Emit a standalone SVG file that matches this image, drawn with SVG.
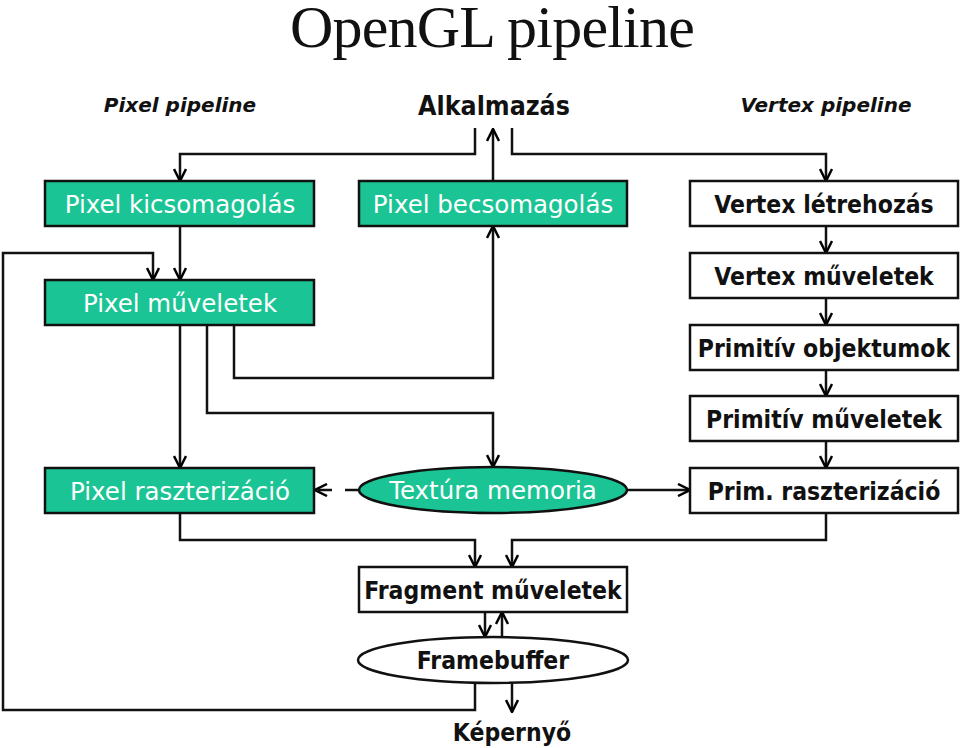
<svg xmlns="http://www.w3.org/2000/svg" width="960" height="748" viewBox="0 0 960 748">
<defs>
<marker id="ah" viewBox="0 0 14 14" refX="13" refY="7" markerWidth="14" markerHeight="14" markerUnits="userSpaceOnUse" orient="auto">
<path d="M1,1 L13,7 L1,13" fill="none" stroke="#000" stroke-width="2.5"/>
</marker>
<style>
.g{fill:#1bc494;stroke:#111;stroke-width:2.5}
.w{fill:#fff;stroke:#111;stroke-width:2.5}
.tw{font-family:"DejaVu Sans",Verdana,sans-serif;font-size:24.5px;fill:#fff;text-anchor:middle}
.tb{font-family:"DejaVu Sans Condensed","DejaVu Sans",Verdana,sans-serif;font-stretch:condensed;font-size:24.5px;font-weight:bold;fill:#111;text-anchor:middle}
.ti{font-family:"DejaVu Sans",Verdana,sans-serif;font-size:20px;font-weight:bold;font-style:italic;fill:#111;text-anchor:middle}
.c{fill:none;stroke:#111;stroke-width:2.5}
.a{marker-end:url(#ah)}
</style>
</defs>
<rect width="960" height="748" fill="#fff"/>
<text x="492" y="47" font-family="'Liberation Serif','Times New Roman',serif" font-size="60" letter-spacing="-0.8" text-anchor="middle" fill="#111">OpenGL pipeline</text>
<text class="ti" x="180" y="112">Pixel pipeline</text>
<text class="ti" x="826" y="112">Vertex pipeline</text>
<text class="tb" x="494" y="115" style="font-size:26.5px">Alkalmazás</text>

<g id="connectors">
<path class="c a" d="M475,128 V154 H180 V181"/>
<path class="c a" d="M512,128 V154 H826 V181"/>
<path class="c a" d="M493,181 V129"/>
<path class="c a" d="M180,226 V280"/>
<path class="c a" d="M475,683 V710 H3 V253 H153 V280"/>
<path class="c a" d="M180,325 V468"/>
<path class="c a" d="M207,325 V413 H493 V467"/>
<path class="c a" d="M234,325 V378 H493 V226"/>
<path class="c a" d="M359,490 H315" stroke-dasharray="14 13"/>
<path class="c a" d="M627,490 H690"/>
<path class="c a" d="M826,226 V253"/>
<path class="c a" d="M826,298 V325"/>
<path class="c a" d="M826,370 V396"/>
<path class="c a" d="M826,441 V468"/>
<path class="c a" d="M180,513 V540 H475 V567"/>
<path class="c a" d="M826,513 V540 H512 V567"/>
<path class="c a" d="M485,612 V637"/>
<path class="c a" d="M502,637 V612"/>
<path class="c a" d="M512,683 V712"/>
</g>

<g id="pixel-kicsomagolas"><rect class="g" x="45" y="181" width="269" height="45"/><text class="tw" x="180" y="213">Pixel kicsomagolás</text></g>
<g id="pixel-becsomagolas"><rect class="g" x="359" y="181" width="268" height="45"/><text class="tw" x="493" y="213">Pixel becsomagolás</text></g>
<g id="vertex-letrehozas"><rect class="w" x="690" y="181" width="268" height="45"/><text class="tb" x="824" y="213">Vertex létrehozás</text></g>
<g id="vertex-muveletek"><rect class="w" x="690" y="253" width="268" height="45"/><text class="tb" x="824" y="285">Vertex műveletek</text></g>
<g id="pixel-muveletek"><rect class="g" x="45" y="280" width="269" height="45"/><text class="tw" x="180" y="312">Pixel műveletek</text></g>
<g id="primitiv-objektumok"><rect class="w" x="690" y="325" width="268" height="45"/><text class="tb" x="824" y="357">Primitív objektumok</text></g>
<g id="primitiv-muveletek"><rect class="w" x="690" y="396" width="268" height="45"/><text class="tb" x="824" y="428">Primitív műveletek</text></g>
<g id="pixel-raszterizacio"><rect class="g" x="45" y="468" width="269" height="45"/><text class="tw" x="180" y="500">Pixel raszterizáció</text></g>
<g id="textura-memoria"><ellipse class="g" cx="493" cy="490" rx="134" ry="23"/><text class="tw" x="493" y="499">Textúra memoria</text></g>
<g id="prim-raszterizacio"><rect class="w" x="690" y="468" width="268" height="45"/><text class="tb" x="824" y="500">Prim. raszterizáció</text></g>
<g id="fragment-muveletek"><rect class="w" x="359" y="567" width="268" height="45"/><text class="tb" x="493" y="599">Fragment műveletek</text></g>
<g id="framebuffer"><ellipse class="w" cx="493" cy="660" rx="135" ry="23"/><text class="tb" x="493" y="669">Framebuffer</text></g>
<g id="kepernyo"><text class="tb" x="512" y="741">Képernyő</text></g>
</svg>
